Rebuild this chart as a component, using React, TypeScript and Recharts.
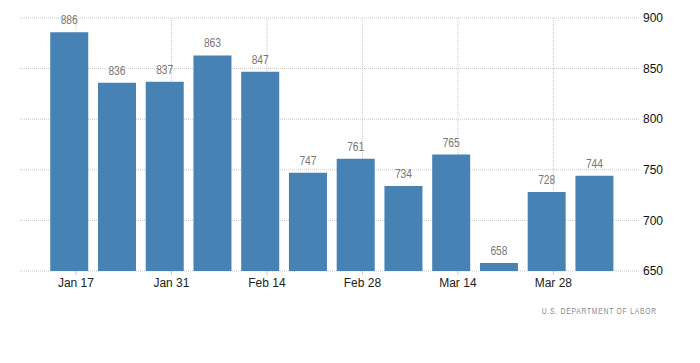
import { BarChart, Bar, XAxis, YAxis, CartesianGrid, LabelList } from "recharts";

// week-ending day of year (2019) and initial claims, thousands
const weekDays = [16, 23, 30, 37, 44, 51, 58, 65, 72, 79, 86, 93];
const claims = [886, 836, 837, 863, 847, 747, 761, 734, 765, 658, 728, 744];

const tickDays = [17, 31, 45, 59, 73, 87];
const tickLabels = ["Jan 17", "Jan 31", "Feb 14", "Feb 28", "Mar 14", "Mar 28"];
const yTicks = [650, 700, 750, 800, 850, 900];

const data = weekDays.map((day, i) => ({ day, value: claims[i] }));

const font = '"Liberation Sans", Arial, sans-serif';

// narrow-looking value label above each bar
const ValueLabel = (props: any) => {
  const { x, y, width, value } = props;
  const s = String(value);
  return (
    <text
      x={x + width / 2}
      y={y - 8}
      textAnchor="middle"
      fontSize={12.5}
      fill="#777"
      fontFamily={font}
      textLength={s.length * 5.7}
      lengthAdjust="spacingAndGlyphs"
    >
      {s}
    </text>
  );
};

export default function App() {
  return (
    <div style={{ position: "absolute", left: 0, top: 0, width: 700, height: 363 }}>
      <BarChart
        width={700}
        height={363}
        data={data}
        margin={{ top: 18, right: 0, bottom: 62, left: 20 }}
      >
        <CartesianGrid stroke="#c8c8c8" strokeDasharray="1 1" syncWithTicks />
        <XAxis
          dataKey="day"
          type="number"
          domain={[8.8, 99.7]}
          ticks={tickDays}
          interval={0}
          tickFormatter={(d: number) => tickLabels[tickDays.indexOf(d)]}
          axisLine={false}
          tickLine={{ stroke: "#c8c8c8" }}
          tickSize={4}
          tickMargin={3}
          height={30}
          tick={{ fontSize: 12, fill: "#222", fontFamily: font }}
        />
        <YAxis
          orientation="right"
          domain={[650, 900]}
          ticks={yTicks}
          interval={0}
          axisLine={false}
          tickLine={false}
          tickSize={0}
          tickMargin={3}
          width={60}
          tick={{ fontSize: 12, fill: "#111", fontFamily: font, textAnchor: "start" }}
        />
        <Bar dataKey="value" fill="#4682b4" barSize={38} isAnimationActive={false}>
          <LabelList dataKey="value" content={ValueLabel} />
        </Bar>
      </BarChart>
      <div
        style={{
          position: "absolute",
          right: 43,
          top: 306,
          fontSize: 8.5,
          letterSpacing: 1,
          color: "#888",
          fontFamily: font,
          whiteSpace: "nowrap",
          transform: "scaleX(0.79)",
          transformOrigin: "right center",
        }}
      >
        U.S. DEPARTMENT OF LABOR
      </div>
    </div>
  );
}
